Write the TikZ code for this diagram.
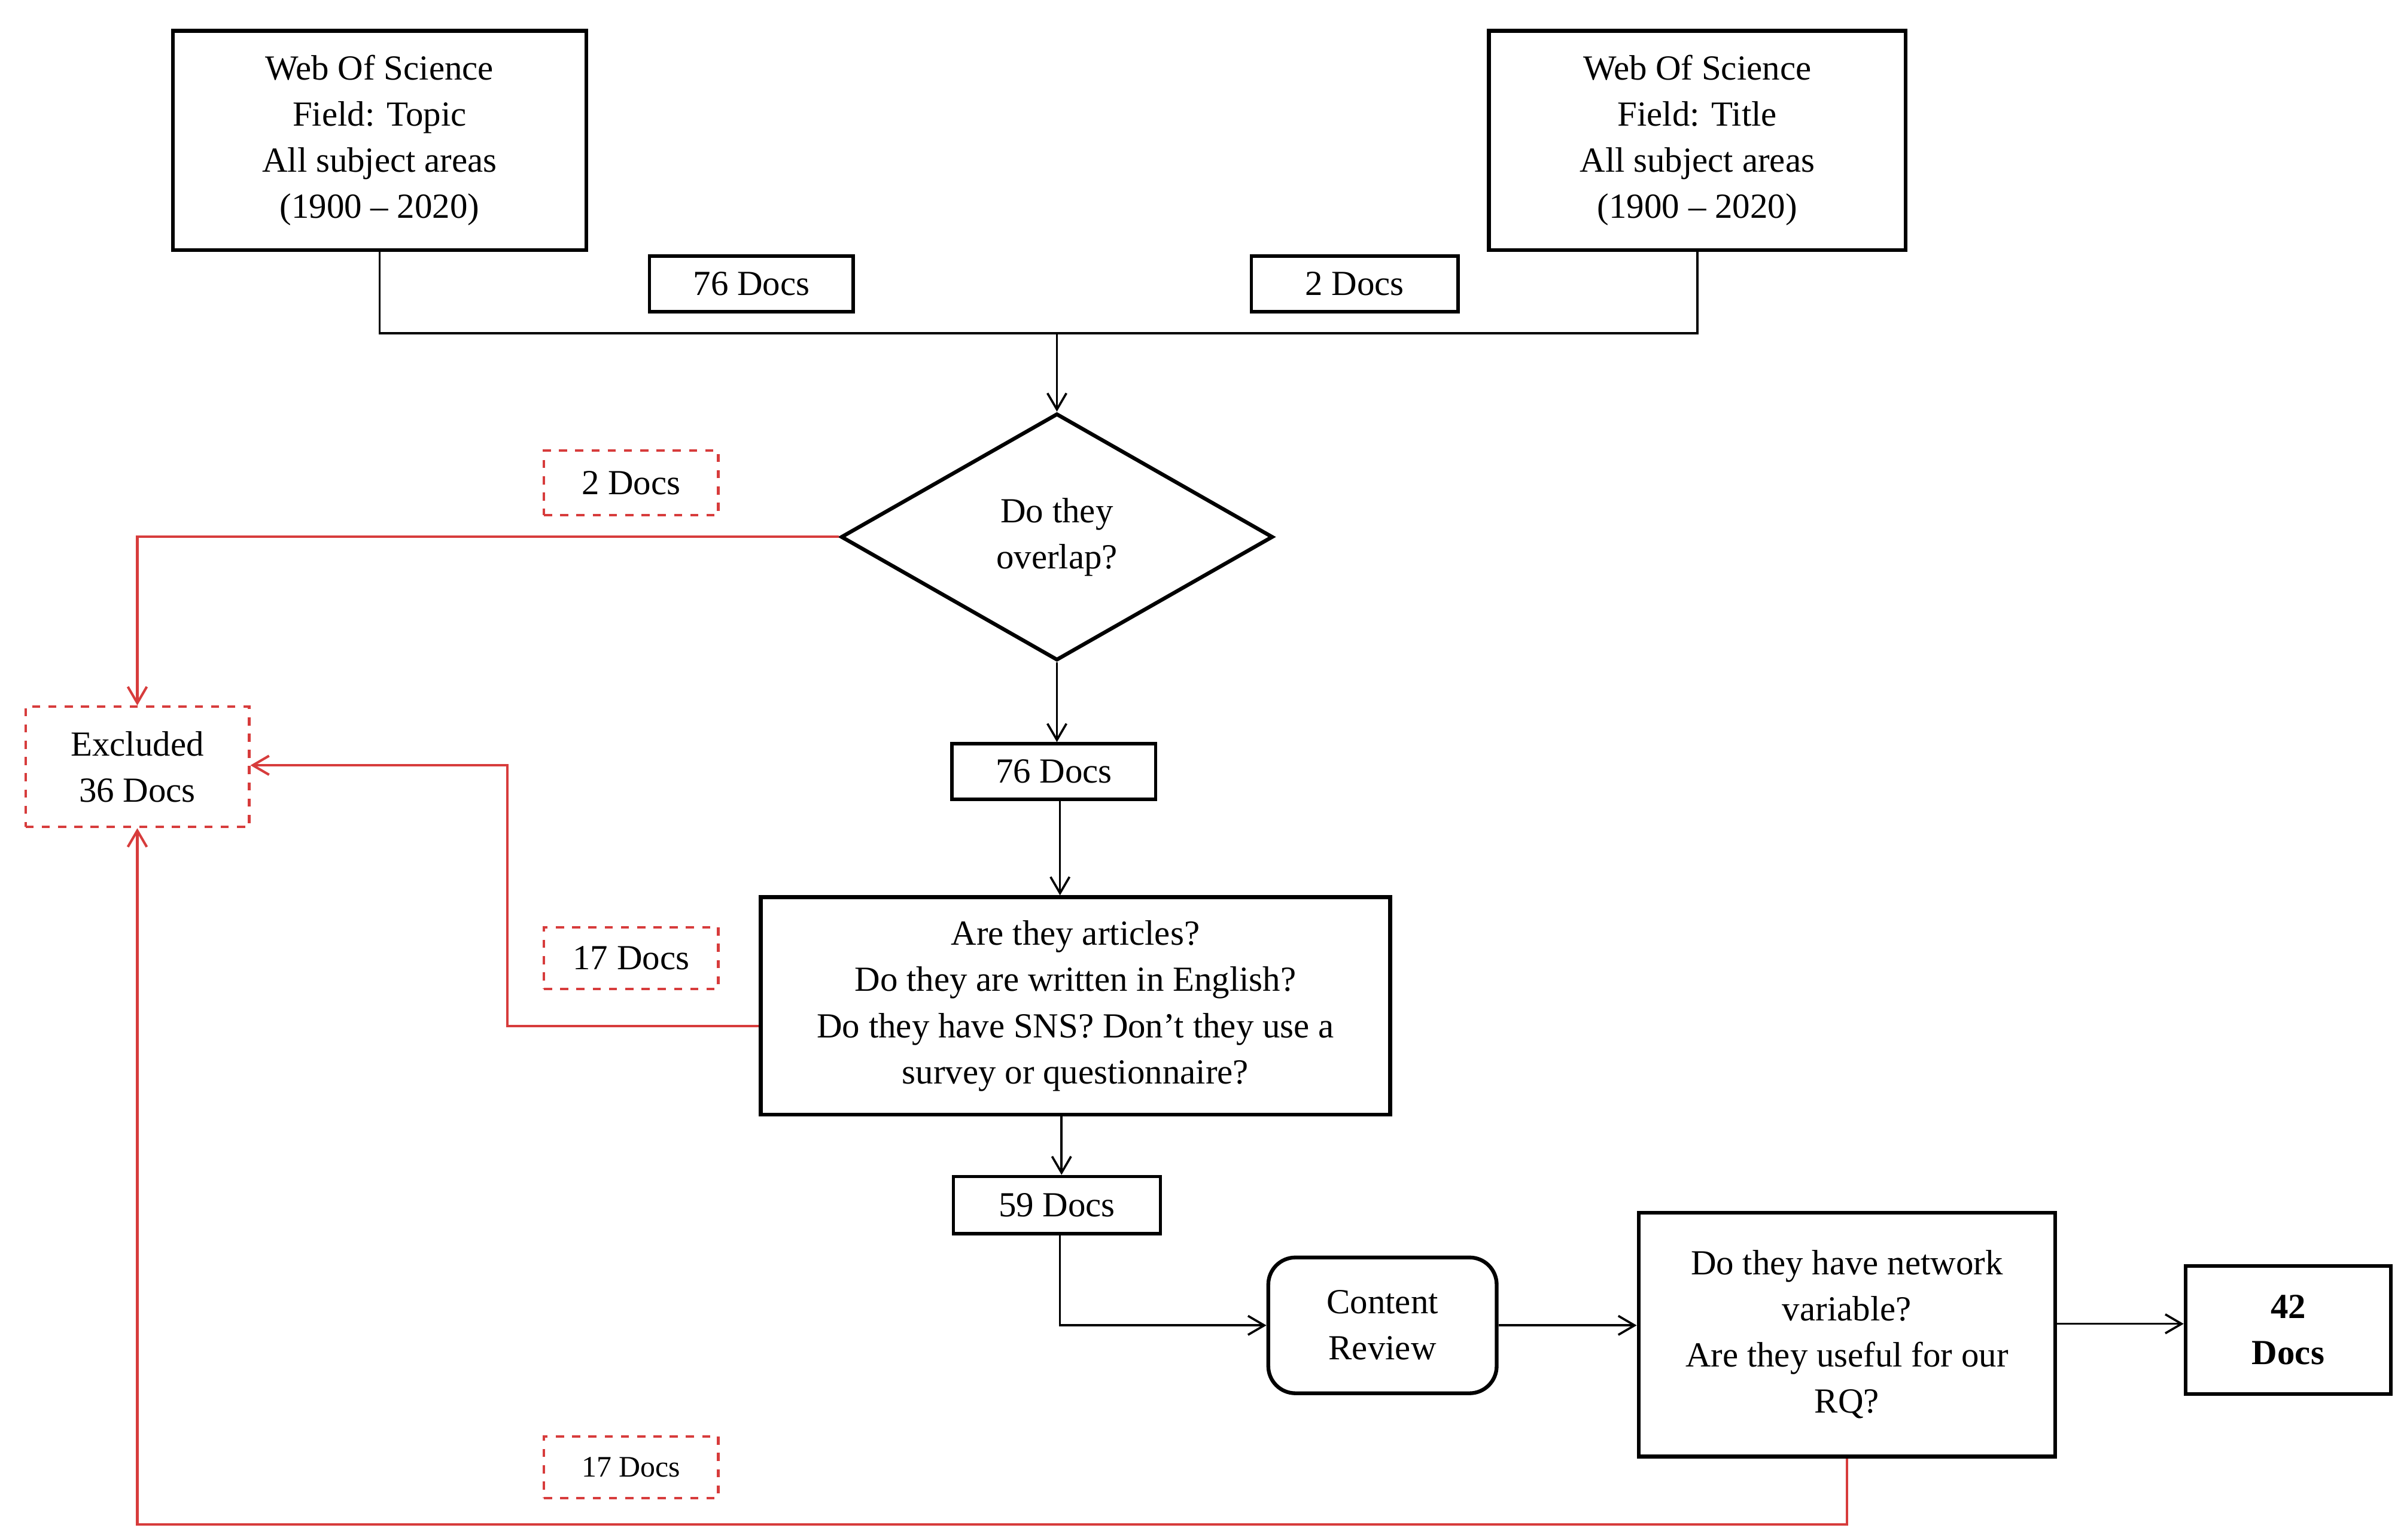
\documentclass[tikz,border=0pt]{standalone}
\usepackage{fontspec}
\setmainfont{Liberation Serif}
\usetikzlibrary{shapes.geometric,arrows.meta}
\definecolor{rd}{RGB}{215,60,60}
\begin{document}
\begin{tikzpicture}[x=0.02cm,y=-0.02cm,
  font=\fontsize{13}{17}\selectfont,
  box/.style={draw,line width=1.4pt,align=center,inner sep=0pt},
  lab/.style={draw,line width=1.2pt,align=center,inner sep=0pt},
  rlab/.style={draw=rd,dashed,line width=0.9pt,align=center,inner sep=0pt},
  arr/.style={-{Straight Barb[length=6pt,width=7pt]},line width=0.8pt},
  rarr/.style={arr,draw=rd,line width=0.9pt}]
\useasboundingbox (0,0) rectangle (1560,998);
\node[box,minimum width=268*0.02cm,minimum height=142*0.02cm] (A) at (246,91) {Web Of Science\\Field: Topic\\All subject areas\\(1900 -- 2020)};
\node[box,minimum width=270*0.02cm,minimum height=142*0.02cm] (B) at (1100,91) {Web Of Science\\Field: Title\\All subject areas\\(1900 -- 2020)};
\node[lab,minimum width=132*0.02cm,minimum height=36*0.02cm] (l1) at (487,184) {76 Docs};
\node[lab,minimum width=134*0.02cm,minimum height=36*0.02cm] (l2) at (878,184) {2 Docs};
\node[diamond,draw,line width=1.4pt,minimum width=280*0.02cm,minimum height=160*0.02cm,inner sep=0pt,align=center] (D) at (685,348) {Do they\\overlap?};
\node[rlab,minimum width=113*0.02cm,minimum height=42*0.02cm] (r1) at (409,313) {2 Docs};
\node[rlab,minimum width=145*0.02cm,minimum height=78*0.02cm] (X) at (89,497) {Excluded\\36 Docs};
\node[lab,minimum width=132*0.02cm,minimum height=36*0.02cm] (l3) at (683,500) {76 Docs};
\node[box,minimum width=408*0.02cm,minimum height=141*0.02cm] (C) at (697,652) {Are they articles?\\Do they are written in English?\\Do they have SNS? Don't they use a\\survey or questionnaire?};
\node[rlab,minimum width=113*0.02cm,minimum height=40*0.02cm] (r2) at (409,621) {17 Docs};
\node[lab,minimum width=134*0.02cm,minimum height=37*0.02cm] (l4) at (685,781) {59 Docs};
\node[box,rounded corners=10pt,minimum width=148*0.02cm,minimum height=88*0.02cm] (CR) at (896,859) {Content\\Review};
\node[box,minimum width=270*0.02cm,minimum height=158*0.02cm] (Q) at (1197,865) {Do they have network\\variable?\\Are they useful for our\\RQ?};
\node[box,minimum width=133*0.02cm,minimum height=83*0.02cm,font=\fontsize{13}{17}\selectfont\bfseries] (E) at (1483,862) {42\\Docs};
\node[rlab,minimum width=113*0.02cm,minimum height=40*0.02cm,font=\fontsize{11}{14}\selectfont] (r3) at (409,951) {17 Docs};
\coordinate (j) at (685,216);
\draw[line width=0.8pt] (A.south) |- (j) -| (B.south);
\draw[arr] (j) -- (D.north);
\draw[rarr] (D.west) -| (X.north);
\draw[arr] (D.south) -- (D.south|-l3.north);
\draw[arr] (l3.south-|687,0) -- (C.north-|687,0);
\draw[rarr] (C.west|-0,665) -| (329,496) -- (X.east|-0,496);
\draw[arr] (C.south-|688,0) -- (l4.north-|688,0);
\draw[arr] (l4.south-|687,0) |- (CR.west);
\draw[arr] (CR.east) -- (Q.west|-CR.east);
\draw[arr] (Q.east|-0,858) -- (E.west|-0,858);
\draw[rarr] (Q.south) -- (1197,988) -| (X.south);
\end{tikzpicture}
\end{document}
